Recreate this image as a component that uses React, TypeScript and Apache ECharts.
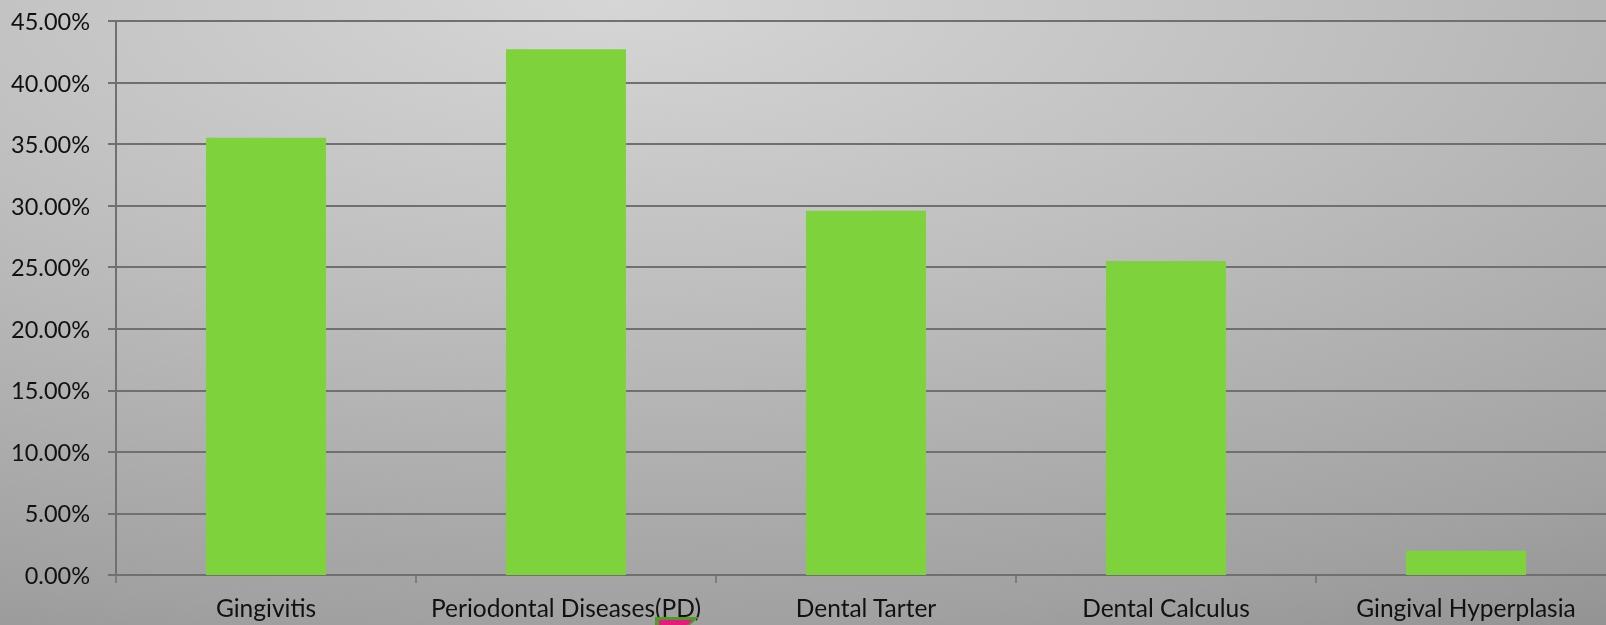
import React, { useEffect, useRef } from "react";
import * as echarts from "echarts";

// Prevalence of periodontal conditions (%)
const categories: string[] = [
  "Gingivitis",
  "Periodontal Diseases(PD)",
  "Dental Tarter",
  "Dental Calculus",
  "Gingival Hyperplasia",
];
const prevalence: number[] = [35.51, 42.71, 29.59, 25.5, 1.96];

const yMin = 0;
const yMax = 45;
const yStep = 5;

const FONT = "Lato, 'Open Sans', sans-serif";

export default function App() {
  const ref = useRef<HTMLDivElement | null>(null);

  useEffect(() => {
    if (!ref.current) return;
    const chart = echarts.init(ref.current, undefined, { renderer: "svg" });
    chart.setOption({
      animation: false,
      graphic: [
        {
          type: "rect",
          z: -10,
          silent: true,
          shape: { x: 0, y: 0, width: 1616, height: 625 },
          style: {
            fill: new echarts.graphic.RadialGradient(0.38, 0, 1.2, [
              { offset: 0, color: "#d6d6d6" },
              { offset: 0.4, color: "#bebebe" },
              { offset: 0.83, color: "#a1a1a1" },
              { offset: 1, color: "#919191" },
            ]),
          },
        },
        {
          type: "polygon",
          z: 10,
          silent: true,
          shape: { points: [[655, 617], [699, 617], [690, 625], [655, 625]] },
          style: { fill: "#4f9a2a" },
        },
        {
          type: "polygon",
          z: 11,
          silent: true,
          shape: { points: [[659, 620], [693, 620], [687, 625], [659, 625]] },
          style: { fill: "#e6197d" },
        },
      ],
      grid: { left: 116, right: 0, top: 21, bottom: 50, containLabel: false },
      xAxis: {
        type: "category",
        data: categories,
        axisLine: { show: true, lineStyle: { color: "#707070", width: 2 } },
        axisTick: {
          show: true,
          length: 8,
          alignWithLabel: false,
          lineStyle: { color: "#707070", width: 1.5 },
        },
        axisLabel: {
          color: "#111",
          fontFamily: FONT,
          fontSize: 24.5,
          margin: 20,
          interval: 0,
        },
        splitLine: { show: false },
      },
      yAxis: {
        type: "value",
        min: yMin,
        max: yMax,
        interval: yStep,
        axisLine: { show: true, lineStyle: { color: "#707070", width: 2 } },
        axisTick: { show: true, length: 8, lineStyle: { color: "#707070", width: 2 } },
        axisLabel: {
          color: "#111",
          fontFamily: FONT,
          fontSize: 23.5,
          margin: 26,
          formatter: (v: number) => v.toFixed(2) + "%",
        },
        splitLine: { show: true, lineStyle: { color: "#707070", width: 2 } },
      },
      series: [
        {
          type: "bar",
          data: prevalence,
          barWidth: "40%",
          itemStyle: { color: "#7ed23c" },
        },
      ],
    });
    return () => chart.dispose();
  }, []);

  return (
    <div
      style={{
        position: "fixed",
        left: 0,
        top: 0,
        width: 1606,
        height: 625,
        overflow: "hidden",
      }}
    >
      <div ref={ref} style={{ width: 1616, height: 625 }} />
    </div>
  );
}
